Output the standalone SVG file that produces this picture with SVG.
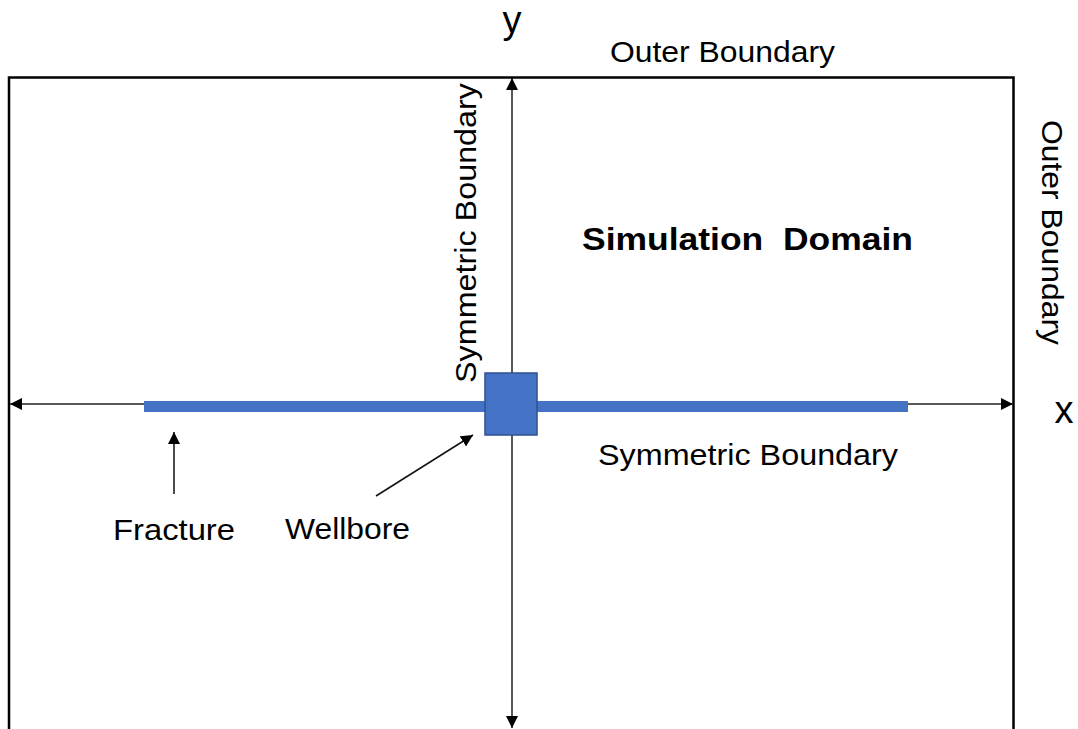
<svg xmlns="http://www.w3.org/2000/svg" width="1078" height="729" viewBox="0 0 1078 729">
  <style>
    .lbl { font-family: "Liberation Sans", Arial, sans-serif; font-size: 30px; fill: #000; }
    .axis-name { font-family: "Liberation Sans", Arial, sans-serif; font-size: 38px; fill: #000; }
    .title { font-family: "Liberation Sans", Arial, sans-serif; font-size: 31px; font-weight: bold; fill: #000; white-space: pre; }
    .axis { stroke: #222; stroke-width: 1.5; fill: none; }
    .pointer { stroke: #111; stroke-width: 1.5; fill: none; }
  </style>
  <defs>
    <marker id="arrow" viewBox="0 0 12 12" refX="12" refY="6" markerWidth="12" markerHeight="12" markerUnits="userSpaceOnUse" orient="auto-start-reverse">
      <path d="M0,0 L12,6 L0,12 Z" fill="#000"/>
    </marker>
  </defs>

  <rect x="0" y="0" width="1078" height="729" fill="#fff"/>

  <!-- outer boundary of the reservoir (open at the bottom edge) -->
  <g id="outer-boundary">
    <path d="M9,745 V77.5 H1013.5 V745" fill="none" stroke="#000" stroke-width="2.5"/>
  </g>

  <!-- x and y axes plus pointer arrows -->
  <g id="connectors">
    <line class="axis" x1="512" y1="78" x2="512" y2="728" marker-start="url(#arrow)" marker-end="url(#arrow)"/>
    <line class="axis" x1="10" y1="404" x2="1013" y2="404" marker-start="url(#arrow)" marker-end="url(#arrow)"/>
    <line class="pointer" x1="174" y1="494" x2="174" y2="432" marker-end="url(#arrow)"/>
    <line class="pointer" x1="376" y1="496" x2="473" y2="435" marker-end="url(#arrow)"/>
  </g>

  <!-- hydraulic fracture -->
  <g id="fracture">
    <rect x="144" y="401" width="764" height="11" fill="#4472C4"/>
  </g>

  <!-- wellbore -->
  <g id="wellbore">
    <rect x="485" y="373" width="52" height="62" fill="#4472C4" stroke="#2F528F" stroke-width="1.5"/>
  </g>

  <!-- labels -->
  <g id="labels">
    <text class="axis-name" x="512" y="33" text-anchor="middle">y</text>
    <text class="axis-name" x="1064" y="423" text-anchor="middle">x</text>
    <text class="lbl" x="610" y="62" textLength="225" lengthAdjust="spacingAndGlyphs">Outer Boundary</text>
    <text class="title" x="582" y="250" textLength="331" lengthAdjust="spacingAndGlyphs">Simulation  Domain</text>
    <text class="lbl" x="598" y="465" textLength="300" lengthAdjust="spacingAndGlyphs">Symmetric Boundary</text>
    <text class="lbl" transform="translate(476,383) rotate(-90)" x="0" y="0" textLength="300" lengthAdjust="spacingAndGlyphs">Symmetric Boundary</text>
    <text class="lbl" transform="translate(1042,120) rotate(90)" x="0" y="0" textLength="225" lengthAdjust="spacingAndGlyphs">Outer Boundary</text>
    <text class="lbl" x="113" y="540" textLength="122" lengthAdjust="spacingAndGlyphs">Fracture</text>
    <text class="lbl" x="285" y="539" textLength="125" lengthAdjust="spacingAndGlyphs">Wellbore</text>
  </g>
</svg>
